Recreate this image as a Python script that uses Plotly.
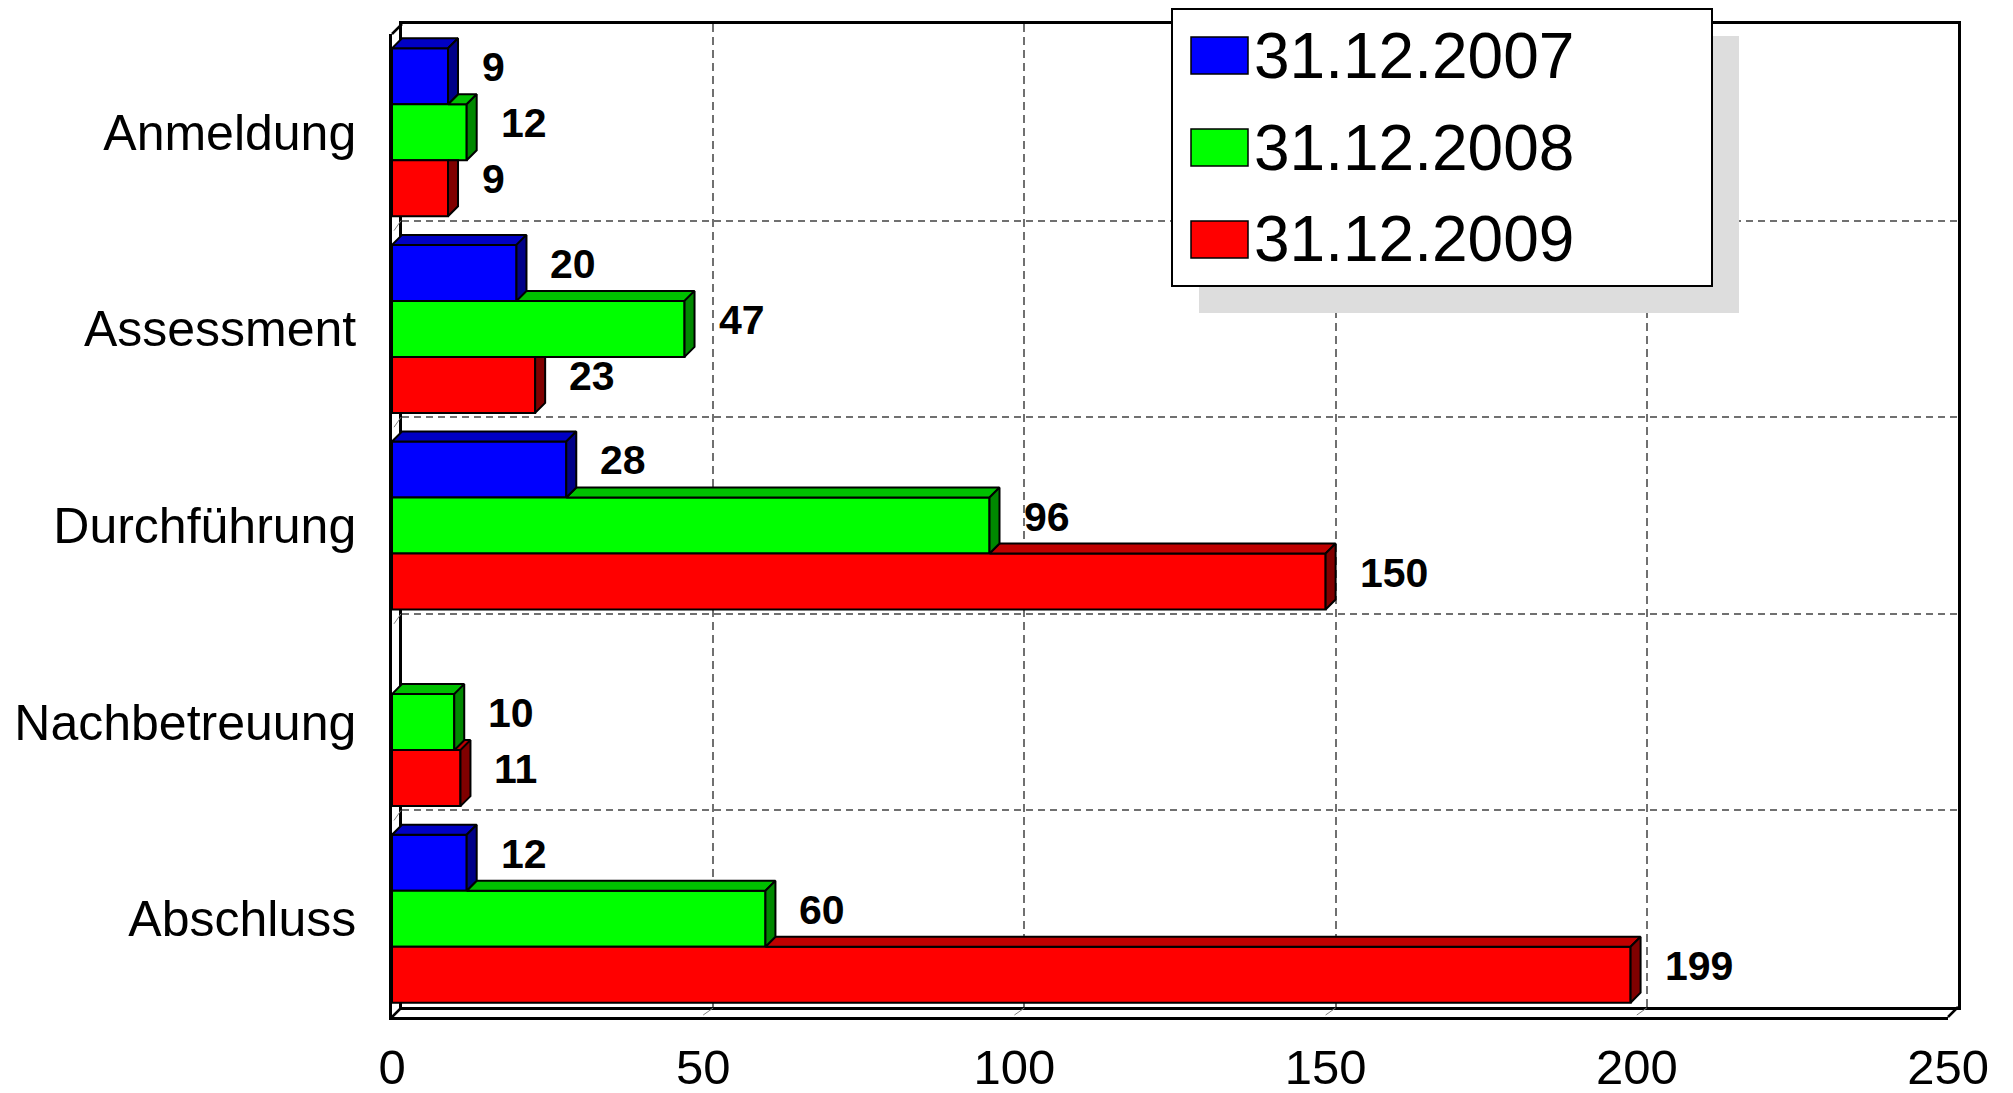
import plotly.graph_objects as go

# ---------------- data ----------------
categories = ["Anmeldung", "Assessment", "Durchführung", "Nachbetreuung", "Abschluss"]
series_names = ["31.12.2007", "31.12.2008", "31.12.2009"]
values_2007 = [9, 20, 28, None, 12]
values_2008 = [12, 47, 96, 10, 60]
values_2009 = [9, 23, 150, 11, 199]
x_ticks = [0, 50, 100, 150, 200, 250]
x_max = 250

series = [values_2007, values_2008, values_2009]
front_colors = ["#0000FF", "#00FF00", "#FF0000"]
top_colors = ["#0000C4", "#00C000", "#C00000"]
side_colors = ["#000088", "#008800", "#800000"]

# ---------------- geometry (pixels) ----------------
W, H = 2013, 1093
FRONT_L, FRONT_R = 392, 1948
FRONT_T, FRONT_B = 34, 1017
DEPTH = 10
BACK_L, BACK_R = FRONT_L + DEPTH, FRONT_R + DEPTH
BACK_T, BACK_B = FRONT_T - DEPTH, FRONT_B - DEPTH
ML, MR, MT, MB = FRONT_L, W - BACK_R, BACK_T, H - FRONT_B
PW = W - ML - MR
PH = H - MT - MB


def px(xp):
    return (xp - ML) / PW


def py(yp):
    return (H - MB - yp) / PH


ncat = len(categories)
px_per_unit = (FRONT_R - FRONT_L) / x_max
px_per_cat = (FRONT_B - FRONT_T) / ncat
dxd = DEPTH / px_per_unit          # depth in value units
dyd = DEPTH / px_per_cat           # depth in category units
BAR_PX = 56
w = BAR_PX / px_per_cat            # bar thickness in category units
yrange = [ncat - 0.5, -0.5]

FONT = "Liberation Sans, Arial, sans-serif"

fig = go.Figure()

# invisible helper so the back-wall subplot (gridlines) is drawn
fig.add_trace(go.Scatter(x=[x_ticks[0]], y=[0], mode="lines", xaxis="x", yaxis="y",
                         showlegend=False, hoverinfo="skip", line=dict(width=0)))

# ---- front faces (bars) ----
for k, vals in enumerate(series):
    ys = [i + (k - 1) * w for i in range(ncat)]
    fig.add_trace(go.Bar(
        x=vals, y=ys, width=w, orientation="h", name=series_names[k],
        marker=dict(color=front_colors[k], line=dict(color="black", width=2)),
        xaxis="x2", yaxis="y2", showlegend=False, hoverinfo="skip",
    ))


def poly(xs, ys, color):
    fig.add_trace(go.Scatter(
        x=xs + [xs[0]], y=ys + [ys[0]], mode="lines", fill="toself",
        fillcolor=color, line=dict(color="black", width=2),
        xaxis="x2", yaxis="y2", showlegend=False, hoverinfo="skip",
    ))


# ---- 3D top and side faces (visible parts only) ----
for i in range(ncat):
    for k in (2, 1, 0):
        v = series[k][i]
        if v is None:
            continue
        u = series[k - 1][i] if k > 0 else 0
        if u is None:
            u = 0
        yt = i + (k - 1) * w - w / 2
        if v > u:
            poly([u, v, v + dxd, u + dxd], [yt, yt, yt - dyd, yt - dyd], top_colors[k])
        if v >= u:
            poly([v, v, v + dxd, v + dxd], [yt, yt + w, yt + w - dyd, yt - dyd], side_colors[k])
        elif u >= v + dxd:
            poly([v, v, v + dxd, v + dxd], [yt, yt + w, yt + w - dyd, yt], side_colors[k])
        else:
            s = (v + dxd - u) / dxd
            poly([v, v, v + dxd, v + dxd, u], [yt, yt + w, yt + w - dyd, yt - s * dyd, yt], side_colors[k])

# ---- data labels ----
annotations = []
for k, vals in enumerate(series):
    for i, v in enumerate(vals):
        if v is None:
            continue
        annotations.append(dict(
            x=v, y=i + (k - 1) * w, xref="x2", yref="y2", text=str(v),
            showarrow=False, xanchor="left", yanchor="middle",
            xshift=DEPTH + 22, yshift=9,
            font=dict(family=FONT, size=41, color="black", weight="bold"),
        ))

# ---- legend (drawn manually for large swatches + shadow) ----
shapes = []
LEG_L, LEG_R, LEG_T, LEG_B = 1172, 1712, 9, 286
SHADOW = 27
shapes.append(dict(type="rect", xref="paper", yref="paper",
                   x0=px(LEG_L + SHADOW), x1=px(LEG_R + SHADOW),
                   y0=py(LEG_T + SHADOW), y1=py(LEG_B + SHADOW),
                   fillcolor="#DDDDDD", line=dict(width=0)))
shapes.append(dict(type="rect", xref="paper", yref="paper",
                   x0=px(LEG_L), x1=px(LEG_R), y0=py(LEG_T), y1=py(LEG_B),
                   fillcolor="white", line=dict(color="black", width=2)))
row_centers = [55.5, 147.5, 239.5]
for k, name in enumerate(series_names):
    yc = row_centers[k]
    shapes.append(dict(type="rect", xref="paper", yref="paper",
                       x0=px(1191), x1=px(1248), y0=py(yc - 18.5), y1=py(yc + 18.5),
                       fillcolor=front_colors[k], line=dict(color="black", width=1.5)))
    annotations.append(dict(
        x=px(1252), y=py(yc), xref="paper", yref="paper", text=name,
        showarrow=False, xanchor="left", yanchor="middle",
        font=dict(family=FONT, size=64, color="black"),
    ))

# ---- 3D frame edges ----
edge = dict(color="black", width=2.5)
for (x0, y0, x1, y1) in [(FRONT_L, FRONT_T, BACK_L, BACK_T),
                         (FRONT_L, FRONT_B, BACK_L, BACK_B),
                         (FRONT_R, FRONT_B, BACK_R, BACK_B)]:
    shapes.append(dict(type="line", xref="paper", yref="paper",
                       x0=px(x0), y0=py(y0), x1=px(x1), y1=py(y1), line=edge))
for t in x_ticks[1:-1]:
    shapes.append(dict(type="line", xref="x2", yref="paper",
                       x0=t, x1=t + dxd, y0=py(FRONT_B - 2), y1=py(BACK_B + 1),
                       line=dict(color="#808080", width=1)))
for b in [i + 0.5 for i in range(ncat - 1)]:
    shapes.append(dict(type="line", xref="paper", yref="y2",
                       x0=px(FRONT_L + 2), x1=px(BACK_L - 1), y0=b, y1=b - dyd,
                       line=dict(color="#808080", width=1)))

grid = dict(showgrid=True, gridcolor="#707070", gridwidth=1.5)
fig.update_layout(
    width=W, height=H, autosize=False,
    margin=dict(l=ML, r=MR, t=MT, b=MB, pad=0, autoexpand=False),
    paper_bgcolor="white", plot_bgcolor="rgba(0,0,0,0)",
    barmode="overlay", hovermode=False, showlegend=False,
    # back wall
    xaxis=dict(domain=[px(BACK_L), px(BACK_R)], range=[0, x_max], anchor="y",
               tickvals=x_ticks[1:-1], showticklabels=False, ticks="", automargin=False,
               griddash="8px,5px", **grid, zeroline=False,
               showline=True, linecolor="black", linewidth=2.5, mirror=True),
    yaxis=dict(domain=[py(BACK_B), py(BACK_T)], range=yrange, anchor="x",
               tickvals=[i + 0.5 for i in range(ncat - 1)], showticklabels=False, ticks="",
               griddash="7px,5px", **grid, zeroline=False, automargin=False,
               showline=True, linecolor="black", linewidth=2.5, mirror=True),
    # front
    xaxis2=dict(domain=[0, px(FRONT_R)], range=[0, x_max], anchor="y2",
                tickvals=x_ticks, ticktext=[str(t) for t in x_ticks], ticks="",
                showgrid=False, zeroline=False, ticklabelstandoff=5, automargin=False,
                tickfont=dict(family=FONT, size=49, color="black"),
                showline=True, linecolor="black", linewidth=2.5),
    yaxis2=dict(domain=[0, py(FRONT_T)], range=yrange, anchor="x2",
                tickvals=list(range(ncat)), ticktext=categories, ticks="",
                showgrid=False, zeroline=False, ticklabelstandoff=23, automargin=False,
                tickfont=dict(family=FONT, size=50, color="black"),
                showline=True, linecolor="black", linewidth=2.5),
    shapes=shapes, annotations=annotations,
)

# remove the browser's default 8px body margin so the figure fills the window
fig.write_html("out.html", config={"displayModeBar": False},
               post_script="document.body.style.margin='0';")
